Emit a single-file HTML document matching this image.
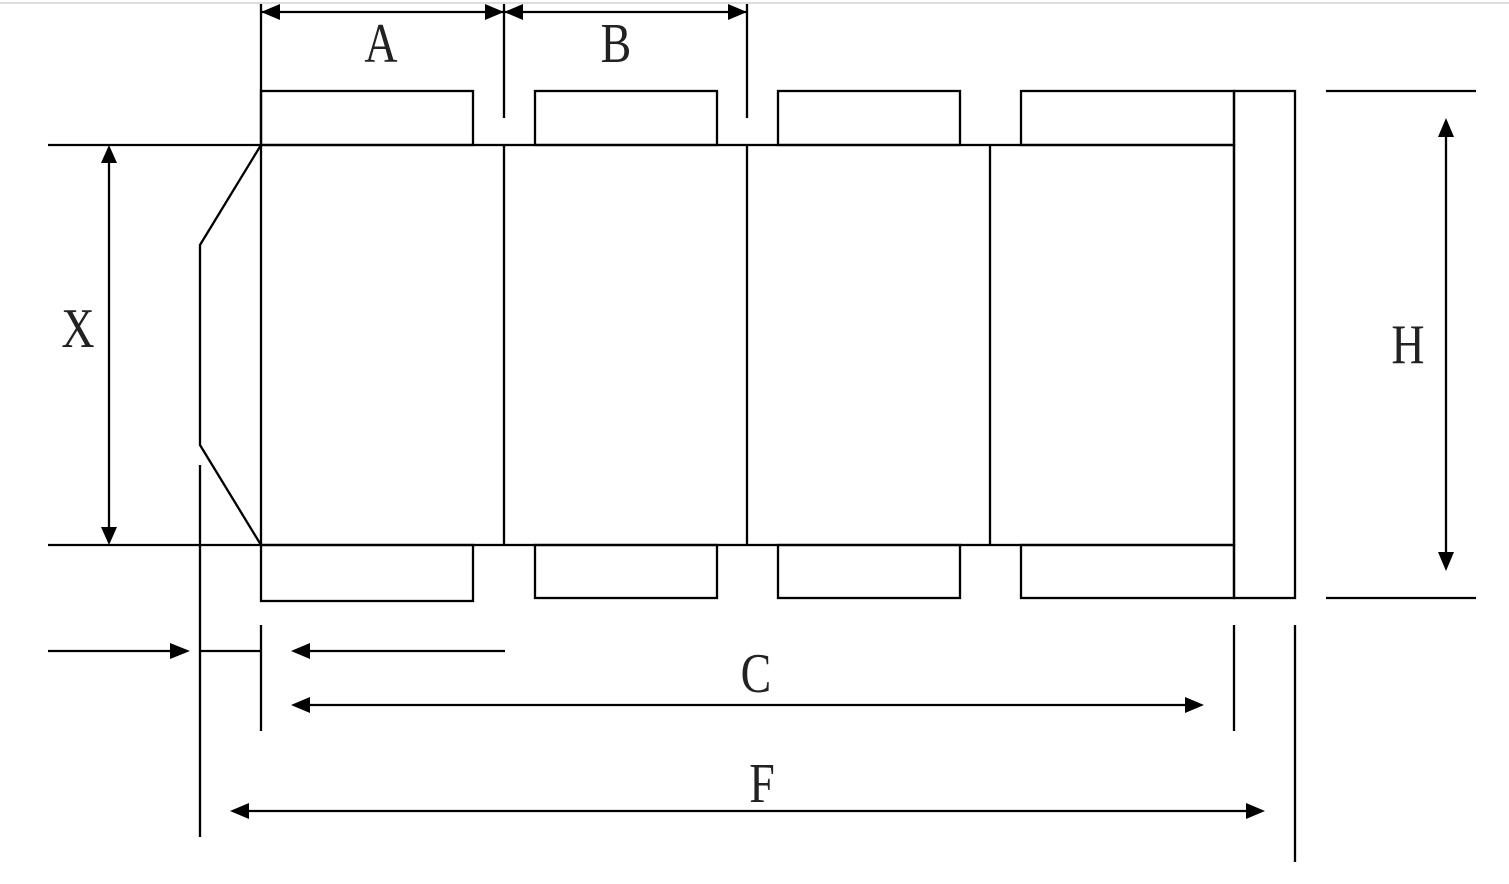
<!DOCTYPE html>
<html><head><style>html,body{margin:0;padding:0;background:#fff;}svg{display:block}</style></head>
<body>
<svg width="1509" height="884" viewBox="0 0 1509 884" xmlns="http://www.w3.org/2000/svg">
<line x1="0" y1="3" x2="1509" y2="3" stroke="#ddd" stroke-width="2"/>
<g stroke="#000" stroke-width="2.3" fill="none">
<line x1="261" y1="4" x2="261" y2="145"/>
<line x1="504" y1="4" x2="504" y2="118"/>
<line x1="747" y1="4" x2="747" y2="118"/>
<line x1="261" y1="12" x2="504" y2="12"/>
<line x1="504" y1="12" x2="747" y2="12"/>
<rect x="261" y="91" width="212" height="54"/>
<rect x="535" y="91" width="182" height="54"/>
<rect x="778" y="91" width="182" height="54"/>
<rect x="1021" y="91" width="213" height="54"/>
<rect x="261" y="145" width="973" height="400"/>
<line x1="504" y1="145" x2="504" y2="545"/>
<line x1="747" y1="145" x2="747" y2="545"/>
<line x1="990" y1="145" x2="990" y2="545"/>
<rect x="1234" y="91" width="61" height="507"/>
<rect x="261" y="545" width="212" height="56"/>
<rect x="535" y="545" width="182" height="53"/>
<rect x="778" y="545" width="182" height="53"/>
<rect x="1021" y="545" width="213" height="53"/>
<polyline points="261,145 200,245 200,445 261,545"/>
<line x1="48" y1="145" x2="261" y2="145"/>
<line x1="48" y1="545" x2="261" y2="545"/>
<line x1="109" y1="150" x2="109" y2="540"/>
<line x1="1326" y1="91" x2="1476" y2="91"/>
<line x1="1326" y1="598" x2="1476" y2="598"/>
<line x1="1446" y1="125" x2="1446" y2="565"/>
<line x1="48" y1="651" x2="185" y2="651"/>
<line x1="200" y1="465" x2="200" y2="837"/>
<line x1="200" y1="651" x2="261" y2="651"/>
<line x1="261" y1="625" x2="261" y2="731"/>
<line x1="298" y1="651" x2="505" y2="651"/>
<line x1="298" y1="705" x2="1198" y2="705"/>
<line x1="1234" y1="625" x2="1234" y2="731"/>
<line x1="1295" y1="625" x2="1295" y2="862"/>
<line x1="238" y1="811" x2="1258" y2="811"/>
</g>
<g fill="#000">
<polygon points="261,12 280,4 280,20"/>
<polygon points="504,12 485,4 485,20"/>
<polygon points="504,12 523,4 523,20"/>
<polygon points="747,12 728,4 728,20"/>
<polygon points="109,145 101,163 117,163"/>
<polygon points="109,545 101,527 117,527"/>
<polygon points="1446,118 1438,137 1454,137"/>
<polygon points="1446,571 1438,552 1454,552"/>
<polygon points="190,651 170,643 170,659"/>
<polygon points="291,651 310,643 310,659"/>
<polygon points="291,705 310,697 310,713"/>
<polygon points="1204,705 1185,697 1185,713"/>
<polygon points="230,811 249,803 249,819"/>
<polygon points="1265,811 1246,803 1246,819"/>
</g>
<g font-family="Liberation Serif, serif" font-size="56" fill="#222" text-anchor="middle">
<text x="381" y="62" transform="translate(381 0) scale(0.82 1) translate(-381 0)">A</text>
<text x="616" y="62" transform="translate(616 0) scale(0.82 1) translate(-616 0)">B</text>
<text x="78" y="347" transform="translate(78 0) scale(0.82 1) translate(-78 0)">X</text>
<text x="1408" y="363" transform="translate(1408 0) scale(0.82 1) translate(-1408 0)">H</text>
<text x="756" y="692" transform="translate(756 0) scale(0.82 1) translate(-756 0)">C</text>
<text x="762" y="802" transform="translate(762 0) scale(0.82 1) translate(-762 0)">F</text>
</g>
</svg>
</body></html>
